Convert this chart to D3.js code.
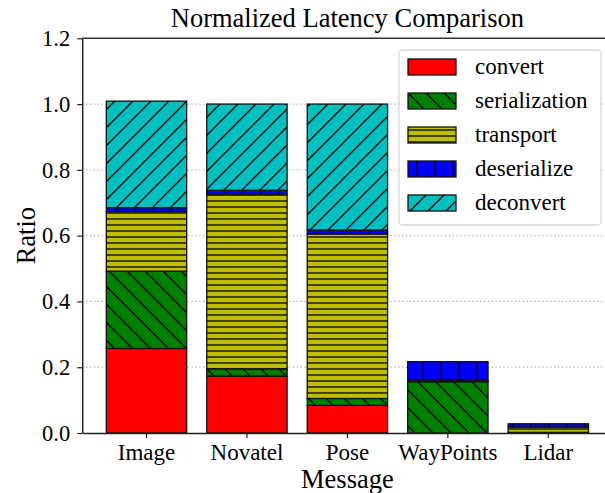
<!DOCTYPE html>
<html>
<head>
<meta charset="utf-8">
<script src="https://cdn.jsdelivr.net/npm/d3@7"></script>
<style>
  body { margin: 0; background: #fff; }
  svg { display: block; }
  svg text { font-family: "Liberation Serif", "Times New Roman", serif; }
</style>
</head>
<body>
<svg id="chart"></svg>
<script>
// data
const messages = ['Image', 'Novatel', 'Pose', 'WayPoints', 'Lidar'];
const stages = ['convert', 'serialization', 'transport', 'deserialize', 'deconvert'];
const convert = [0.257, 0.173, 0.084, 0.0, 0.0];
const serialization = [0.235, 0.022, 0.021, 0.156, 0.002];
const transport = [0.181, 0.530, 0.500, 0.005, 0.016];
const deserialize = [0.012, 0.013, 0.012, 0.056, 0.010];
const deconvert = [0.324, 0.262, 0.383, 0.0, 0.0];
const yTicks = [0, 0.2, 0.4, 0.6, 0.8, 1.0, 1.2];

const colors = {
    convert: '#ff0000',
    serialization: '#008000',
    transport: '#bfbf00',
    deserialize: '#0000ff',
    deconvert: '#00bfbf'
};

// dimensions
const W = 605, H = 493;
const margin = { top: 38.3, left: 82.2 };
const plotRight = 612.6;   // right spine falls just outside the picture
const plotBottom = 433;

const svg = d3.select('#chart')
    .attr('width', W)
    .attr('height', H);

// hatch patterns
const defs = svg.append('defs');
function hatch(id, color, draw, w, h) {
    const p = defs.append('pattern')
        .attr('id', id)
        .attr('patternUnits', 'userSpaceOnUse')
        .attr('width', w)
        .attr('height', h);
    p.append('rect').attr('width', w).attr('height', h).attr('fill', color);
    draw(p.append('g').attr('stroke', '#000').attr('stroke-width', 1.3).attr('fill', 'none'));
}
hatch('h-convert', colors.convert, g => {}, 10, 10);
hatch('h-serialization', colors.serialization, g => {
    g.append('path').attr('d', 'M-2,-2L20,20M-2,16L2,20M16,-2L20,2');
}, 18, 18);
hatch('h-transport', colors.transport, g => {
    g.append('path').attr('d', 'M0,3H6');
}, 6, 6);
hatch('h-deserialize', colors.deserialize, g => {
    g.append('path').attr('d', 'M9,0V18');
}, 18, 18);
hatch('h-deconvert', colors.deconvert, g => {
    g.append('path').attr('d', 'M-2,20L20,-2M-2,2L2,-2M16,20L20,16');
}, 18, 18);

// scales
const x = d3.scaleBand()
    .domain(messages)
    .range([margin.left, plotRight])
    .paddingInner(0.2)
    .paddingOuter(0.24);

const y = d3.scaleLinear()
    .domain([0, 1.2])
    .range([plotBottom, margin.top]);

// grid
svg.append('g')
    .selectAll('line')
    .data(yTicks.slice(1, -1))
    .join('line')
    .attr('x1', margin.left)
    .attr('x2', plotRight)
    .attr('y1', d => y(d))
    .attr('y2', d => y(d))
    .attr('stroke', '#b0b0b0')
    .attr('stroke-width', 1.3)
    .attr('stroke-dasharray', '1.3,2.6');

// stacked bars
const table = messages.map((m, i) => ({
    message: m,
    convert: convert[i],
    serialization: serialization[i],
    transport: transport[i],
    deserialize: deserialize[i],
    deconvert: deconvert[i]
}));
const series = d3.stack().keys(stages)(table);

svg.append('g')
    .selectAll('g')
    .data(series)
    .join('g')
    .attr('fill', d => `url(#h-${d.key})`)
    .selectAll('rect')
    .data(d => d.filter(s => s[1] - s[0] > 0))
    .join('rect')
    .attr('x', d => x(d.data.message))
    .attr('width', x.bandwidth())
    .attr('y', d => y(d[1]))
    .attr('height', d => y(d[0]) - y(d[1]))
    .attr('stroke', '#111')
    .attr('stroke-width', 1.3);

// axes
const xAxis = svg.append('g')
    .attr('transform', `translate(0,${plotBottom})`)
    .call(d3.axisBottom(x).tickSize(5).tickSizeOuter(0).tickPadding(6))
    .attr('font-size', 23);
xAxis.select('.domain').attr('stroke', '#222').attr('stroke-width', 1.5);
xAxis.selectAll('.tick line').attr('stroke', '#222').attr('stroke-width', 1.2);
xAxis.selectAll('.tick text').attr('fill', '#000');

const yAxis = svg.append('g')
    .attr('transform', `translate(${margin.left},0)`)
    .call(d3.axisLeft(y).tickValues(yTicks).tickFormat(d3.format('.1f')).tickSize(5).tickSizeOuter(0).tickPadding(7))
    .attr('font-size', 22.5);
yAxis.select('.domain').attr('stroke', '#222').attr('stroke-width', 1.5);
yAxis.selectAll('.tick line').attr('stroke', '#222').attr('stroke-width', 1.2);
yAxis.selectAll('.tick text').attr('fill', '#000');

// top spine
svg.append('line')
    .attr('x1', margin.left)
    .attr('x2', plotRight)
    .attr('y1', y(1.2))
    .attr('y2', y(1.2))
    .attr('stroke', '#333')
    .attr('stroke-width', 1.5);

// labels
svg.append('text')
    .attr('x', (margin.left + plotRight) / 2)
    .attr('y', 27)
    .attr('text-anchor', 'middle')
    .attr('font-size', 26.5)
    .text('Normalized Latency Comparison');

svg.append('text')
    .attr('x', (margin.left + plotRight) / 2)
    .attr('y', 488)
    .attr('text-anchor', 'middle')
    .attr('font-size', 26.5)
    .text('Message');

svg.append('text')
    .attr('transform', `translate(35,${(margin.top + plotBottom) / 2}) rotate(-90)`)
    .attr('text-anchor', 'middle')
    .attr('font-size', 26.5)
    .text('Ratio');

// legend
const legend = svg.append('g');
legend.append('rect')
    .attr('x', 399)
    .attr('y', 50)
    .attr('width', 202)
    .attr('height', 175)
    .attr('rx', 4)
    .attr('fill', '#fff')
    .attr('fill-opacity', 0.85)
    .attr('stroke', '#d6d6d6')
    .attr('stroke-width', 1.3);

const item = legend.selectAll('.item')
    .data(stages)
    .join('g')
    .attr('class', 'item')
    .attr('transform', (d, i) => `translate(408,${59 + i * 34})`);
item.append('rect')
    .attr('width', 48)
    .attr('height', 16)
    .attr('fill', d => `url(#h-${d})`)
    .attr('stroke', '#111')
    .attr('stroke-width', 1.3);
item.append('text')
    .attr('x', 67)
    .attr('y', 15)
    .attr('font-size', 23)
    .text(d => d);
</script>
</body>
</html>
